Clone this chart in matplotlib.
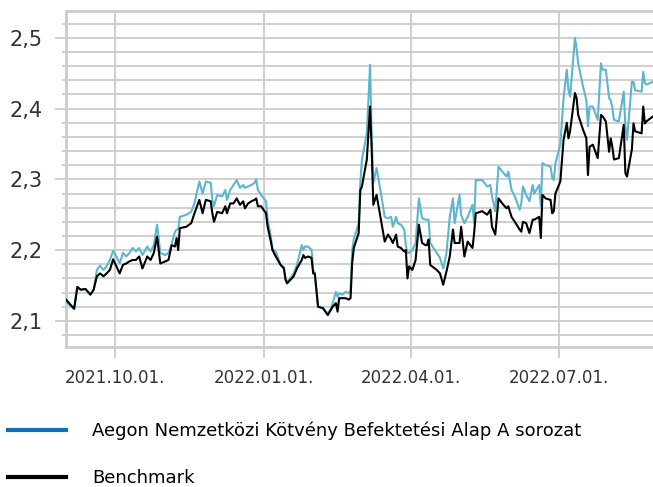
import matplotlib
matplotlib.use("Agg")
from matplotlib import pyplot as plt
import matplotlib.dates as mdates
from matplotlib.lines import Line2D
from matplotlib.ticker import MultipleLocator
import pandas as pd

# napi árfolyamok (leolvasva)
dates = [
    "2021-09-01", "2021-09-06", "2021-09-08", "2021-09-10", "2021-09-13", "2021-09-16",
    "2021-09-18", "2021-09-20", "2021-09-22", "2021-09-24", "2021-09-26", "2021-09-28",
    "2021-09-30", "2021-10-02", "2021-10-04", "2021-10-06", "2021-10-08", "2021-10-10",
    "2021-10-12", "2021-10-14", "2021-10-16", "2021-10-18", "2021-10-21", "2021-10-23",
    "2021-10-25", "2021-10-27", "2021-10-29", "2021-11-01", "2021-11-03", "2021-11-05",
    "2021-11-07", "2021-11-08", "2021-11-09", "2021-11-10", "2021-11-14", "2021-11-17",
    "2021-11-19", "2021-11-22", "2021-11-24", "2021-11-26", "2021-11-29", "2021-11-30",
    "2021-12-01", "2021-12-03", "2021-12-06", "2021-12-08", "2021-12-09", "2021-12-11",
    "2021-12-13", "2021-12-15", "2021-12-17", "2021-12-19", "2021-12-20", "2021-12-22",
    "2021-12-24", "2021-12-26", "2021-12-27", "2021-12-28", "2021-12-30", "2022-01-02",
    "2022-01-03", "2022-01-05", "2022-01-06", "2022-01-08", "2022-01-11", "2022-01-13",
    "2022-01-14", "2022-01-15", "2022-01-17", "2022-01-19", "2022-01-21", "2022-01-24",
    "2022-01-25", "2022-01-26", "2022-01-28", "2022-01-30", "2022-01-31", "2022-02-01",
    "2022-02-03", "2022-02-06", "2022-02-09", "2022-02-11", "2022-02-12", "2022-02-14",
    "2022-02-15", "2022-02-16", "2022-02-18", "2022-02-20", "2022-02-22", "2022-02-23",
    "2022-02-24", "2022-02-25", "2022-02-28", "2022-03-01", "2022-03-02", "2022-03-05",
    "2022-03-07", "2022-03-08", "2022-03-09", "2022-03-11", "2022-03-13", "2022-03-16",
    "2022-03-18", "2022-03-20", "2022-03-21", "2022-03-23", "2022-03-24", "2022-03-26",
    "2022-03-28", "2022-03-29", "2022-03-30", "2022-03-31", "2022-04-02", "2022-04-04",
    "2022-04-06", "2022-04-08", "2022-04-10", "2022-04-11", "2022-04-12", "2022-04-13",
    "2022-04-17", "2022-04-19", "2022-04-21", "2022-04-23", "2022-04-25", "2022-04-27",
    "2022-04-28", "2022-05-01", "2022-05-02", "2022-05-04", "2022-05-06", "2022-05-09",
    "2022-05-10", "2022-05-11", "2022-05-15", "2022-05-18", "2022-05-20", "2022-05-21",
    "2022-05-23", "2022-05-25", "2022-05-28", "2022-05-30", "2022-05-31", "2022-06-02",
    "2022-06-04", "2022-06-07", "2022-06-08", "2022-06-09", "2022-06-11", "2022-06-13",
    "2022-06-15", "2022-06-16", "2022-06-19", "2022-06-20", "2022-06-21", "2022-06-23",
    "2022-06-26", "2022-06-27", "2022-06-28", "2022-06-29", "2022-07-02", "2022-07-04",
    "2022-07-06", "2022-07-07", "2022-07-08", "2022-07-11", "2022-07-12", "2022-07-13",
    "2022-07-16", "2022-07-18", "2022-07-19", "2022-07-20", "2022-07-22", "2022-07-25",
    "2022-07-27", "2022-07-28", "2022-07-30", "2022-08-01", "2022-08-02", "2022-08-03",
    "2022-08-04", "2022-08-07", "2022-08-10", "2022-08-11", "2022-08-12", "2022-08-15",
    "2022-08-16", "2022-08-17", "2022-08-21", "2022-08-22", "2022-08-23", "2022-08-24",
    "2022-08-28",
]

alap = [
    2.127, 2.117, 2.148, 2.144, 2.145, 2.137, 2.144, 2.172, 2.178, 2.172, 2.177, 2.186,
    2.199, 2.191, 2.181, 2.196, 2.191, 2.196, 2.203, 2.198, 2.203, 2.193, 2.205, 2.198,
    2.207, 2.236, 2.196, 2.193, 2.196, 2.209, 2.226, 2.229, 2.229, 2.247, 2.250, 2.254,
    2.266, 2.297, 2.280, 2.297, 2.295, 2.271, 2.262, 2.278, 2.276, 2.285, 2.271, 2.285,
    2.292, 2.299, 2.288, 2.292, 2.288, 2.290, 2.292, 2.295, 2.300, 2.285, 2.278, 2.269,
    2.243, 2.219, 2.201, 2.198, 2.179, 2.176, 2.160, 2.155, 2.160, 2.167, 2.179, 2.207,
    2.200, 2.205, 2.205, 2.200, 2.172, 2.167, 2.120, 2.118, 2.110, 2.118, 2.125, 2.141,
    2.134, 2.139, 2.137, 2.141, 2.139, 2.144, 2.200, 2.215, 2.238, 2.295, 2.328, 2.365,
    2.462, 2.360, 2.295, 2.316, 2.290, 2.247, 2.245, 2.247, 2.233, 2.247, 2.238, 2.236,
    2.229, 2.207, 2.196, 2.196, 2.200, 2.210, 2.273, 2.245, 2.243, 2.243, 2.243, 2.210,
    2.196, 2.189, 2.174, 2.196, 2.247, 2.273, 2.238, 2.278, 2.250, 2.238, 2.247, 2.264,
    2.238, 2.299, 2.299, 2.290, 2.292, 2.276, 2.255, 2.318, 2.309, 2.304, 2.311, 2.285,
    2.276, 2.257, 2.266, 2.290, 2.278, 2.269, 2.292, 2.280, 2.292, 2.262, 2.323, 2.320,
    2.318, 2.302, 2.299, 2.323, 2.349, 2.415, 2.455, 2.426, 2.417, 2.500, 2.485, 2.464,
    2.431, 2.412, 2.375, 2.403, 2.403, 2.384, 2.464, 2.455, 2.455, 2.415, 2.412, 2.401,
    2.384, 2.382, 2.424, 2.375, 2.356, 2.438, 2.438, 2.426, 2.424, 2.452, 2.436, 2.434,
    2.438,
]

benchmark = [
    2.130, 2.117, 2.148, 2.144, 2.145, 2.137, 2.144, 2.163, 2.167, 2.163, 2.167, 2.172,
    2.187, 2.177, 2.167, 2.179, 2.181, 2.184, 2.186, 2.186, 2.191, 2.174, 2.191, 2.186,
    2.196, 2.219, 2.181, 2.184, 2.186, 2.207, 2.205, 2.217, 2.200, 2.231, 2.233, 2.238,
    2.252, 2.271, 2.252, 2.271, 2.269, 2.252, 2.240, 2.254, 2.252, 2.262, 2.252, 2.266,
    2.266, 2.273, 2.264, 2.269, 2.259, 2.266, 2.269, 2.271, 2.273, 2.262, 2.262, 2.252,
    2.233, 2.212, 2.200, 2.191, 2.179, 2.174, 2.158, 2.153, 2.158, 2.163, 2.174, 2.186,
    2.193, 2.189, 2.191, 2.189, 2.167, 2.167, 2.120, 2.118, 2.108, 2.116, 2.120, 2.125,
    2.113, 2.132, 2.132, 2.132, 2.130, 2.132, 2.182, 2.203, 2.224, 2.285, 2.290, 2.328,
    2.403, 2.342, 2.264, 2.278, 2.252, 2.212, 2.222, 2.215, 2.210, 2.222, 2.205, 2.203,
    2.198, 2.200, 2.160, 2.177, 2.172, 2.186, 2.236, 2.210, 2.207, 2.207, 2.215, 2.179,
    2.172, 2.167, 2.151, 2.170, 2.191, 2.229, 2.210, 2.210, 2.233, 2.191, 2.212, 2.203,
    2.224, 2.252, 2.255, 2.250, 2.257, 2.233, 2.222, 2.273, 2.264, 2.259, 2.262, 2.247,
    2.240, 2.229, 2.226, 2.240, 2.238, 2.224, 2.243, 2.243, 2.247, 2.217, 2.278, 2.273,
    2.271, 2.252, 2.255, 2.280, 2.297, 2.356, 2.380, 2.358, 2.368, 2.422, 2.415, 2.391,
    2.370, 2.358, 2.306, 2.346, 2.349, 2.330, 2.391, 2.389, 2.382, 2.339, 2.358, 2.346,
    2.328, 2.330, 2.377, 2.309, 2.304, 2.342, 2.379, 2.368, 2.365, 2.403, 2.379, 2.382,
    2.389,
]

labels = ["Aegon Nemzetközi Kötvény Befektetési Alap A sorozat", "Benchmark"]

plt.rcParams['font.family'] = ['DejaVu Sans']

x = pd.to_datetime(dates)

fig = plt.figure(figsize=(6.53, 4.87), dpi=100)
ax = fig.add_axes([66 / 653, 140 / 487, 1 - 66 / 653, 336 / 487])

grid_c = '#cccccc'
ax.plot(x, alap, color='#5cb6cf', lw=1.5, zorder=3)
ax.plot(x, benchmark, color='black', lw=1.5, zorder=4)

ax.set_xlim(pd.Timestamp('2021-09-01'), pd.Timestamp('2022-08-28'))
ax.set_ylim(2.063, 2.538)

ax.yaxis.set_major_locator(MultipleLocator(0.1))
ax.yaxis.set_minor_locator(MultipleLocator(0.02))
ax.xaxis.set_major_locator(mdates.MonthLocator(bymonth=[1, 4, 7, 10]))
ax.xaxis.set_major_formatter(mdates.DateFormatter('%Y.%m.%d.'))
ax.yaxis.set_major_formatter(lambda v, p: f"{v:.1f}".replace('.', ','))

ax.grid(which='both', axis='y', color=grid_c, lw=1.3)
ax.grid(which='major', axis='x', color=grid_c, lw=1.3)
ax.set_axisbelow(True)

for s in ['left', 'bottom', 'top']:
    ax.spines[s].set_color(grid_c)
    ax.spines[s].set_linewidth(2)
ax.spines['right'].set_visible(False)

ax.tick_params(axis='y', which='major', length=8, width=1.3, color=grid_c,
               labelsize=15, labelcolor='#333333', pad=9)
ax.tick_params(axis='y', which='minor', length=3, width=1.3, color=grid_c)
ax.tick_params(axis='x', which='major', length=8, width=1.3, color=grid_c,
               labelsize=12, labelcolor='#333333', pad=8)

handles = [Line2D([], [], color='#0b72b9', lw=3),
           Line2D([], [], color='black', lw=3)]
fig.legend(handles, labels, loc='upper left', bbox_to_anchor=(8 / 653, 0.134),
           frameon=False, fontsize=13, handlelength=3.2, handletextpad=1.44,
           labelspacing=1.6, borderaxespad=0, borderpad=0)

plt.savefig('out.png', dpi=100)
